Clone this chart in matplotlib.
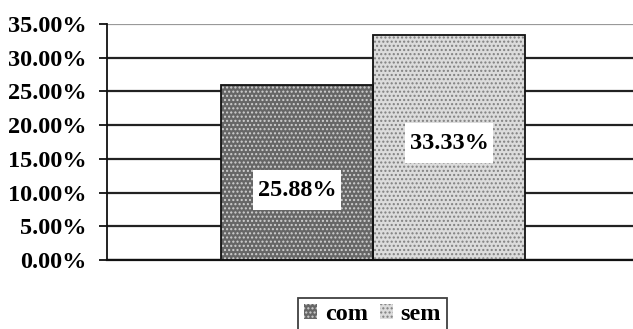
import matplotlib
matplotlib.use("Agg")
import matplotlib.pyplot as plt
from matplotlib.ticker import FuncFormatter
from matplotlib.patches import Patch

categories = ["com", "sem"]
values = [25.88, 33.33]
value_labels = ["25.88%", "33.33%"]
yticks = [0, 5, 10, 15, 20, 25, 30, 35]

face_colors = ["#666666", "#dcdcdc"]
dot_colors = ["#d0d0d0", "#808080"]
label_frac = [0.40, 0.52]

plt.rcParams["font.family"] = ["Liberation Serif", "DejaVu Serif"]
plt.rcParams["font.weight"] = "bold"
plt.rcParams["hatch.linewidth"] = 1.0

fig = plt.figure(figsize=(6.33, 3.29), dpi=100)
ax = fig.add_axes([107 / 633, (329 - 260) / 329, 526 / 633, 236 / 329])

x = list(range(len(categories)))
ax.bar(x, values, width=1.0, color=face_colors, edgecolor="none", zorder=2)
for xi, v, dc in zip(x, values, dot_colors):
    ax.bar(xi, v, width=1.0, facecolor="none", edgecolor=dc, hatch="....", linewidth=0, zorder=3)
ax.bar(x, values, width=1.0, facecolor="none", edgecolor="#111111", linewidth=1.3, zorder=4)

for xi, v, lab, f in zip(x, values, value_labels, label_frac):
    ax.text(xi, v * f, lab, ha="center", va="center", fontsize=17.5, fontweight="bold",
            zorder=5, bbox=dict(boxstyle="square,pad=0.2", facecolor="white", edgecolor="none",
                                mutation_aspect=1.9))

ax.set_xlim(-1.25, 2.21)
ax.set_ylim(0, 35)
ax.set_yticks(yticks)
ax.yaxis.set_major_formatter(FuncFormatter(lambda v, p: "{:.2f}%".format(v)))
ax.set_xticks([])
ax.tick_params(axis="y", direction="out", length=6, width=1.3, pad=8.5, labelsize=17.5, color="#111111")
for lab in ax.get_yticklabels():
    lab.set_fontweight("bold")

ax.yaxis.grid(True, color="#222222", linewidth=1.6, zorder=1)
ax.set_axisbelow(True)
ax.yaxis.get_gridlines()[-1].set_color("#999999")
for side in ["top", "right"]:
    ax.spines[side].set_visible(False)
ax.spines["left"].set_linewidth(1.3)
ax.spines["left"].set_color("#111111")
ax.spines["bottom"].set_linewidth(1.6)
ax.spines["bottom"].set_color("#111111")

handles = [Patch(facecolor=fc, edgecolor=dc, hatch="....", linewidth=0) for fc, dc in zip(face_colors, dot_colors)]
leg = fig.legend(handles, categories, loc="upper center", bbox_to_anchor=(372.5 / 633, 31 / 329),
                 ncol=2, fontsize=17.5, frameon=True, fancybox=False, edgecolor="#111111",
                 handlelength=0.55, handleheight=0.55, handletextpad=0.3, columnspacing=0.5,
                 borderpad=0.25, borderaxespad=0)
leg.get_frame().set_linewidth(1.3)
for t in leg.get_texts():
    t.set_fontweight("bold")

fig.savefig("out.png", dpi=100)
